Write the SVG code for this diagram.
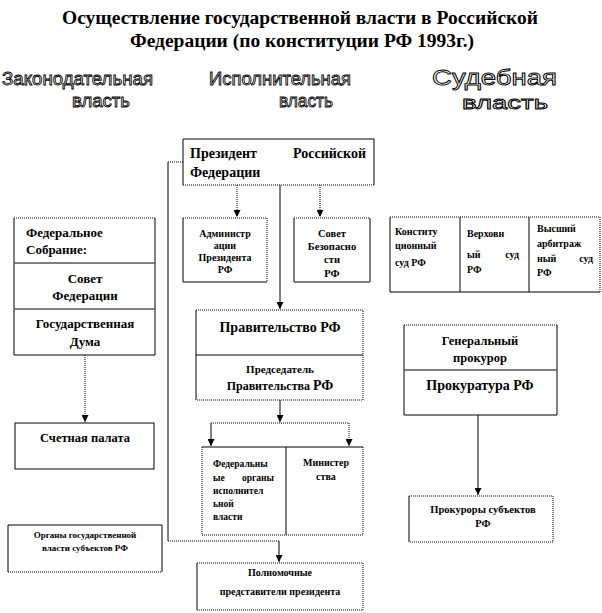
<svg xmlns="http://www.w3.org/2000/svg" width="602" height="613" viewBox="0 0 602 613">
<style>
.t{font-family:"Liberation Serif","Times New Roman",serif;font-weight:bold;fill:#000}
.h{font-family:"Liberation Sans",Arial,sans-serif;fill:#fff;stroke:#000;stroke-width:0.9}
.box{fill:#fff;stroke:none}
.s{fill:none;stroke:#000;stroke-width:1}
.d{fill:none;stroke:#000;stroke-width:1;stroke-dasharray:1 1}
.g{fill:none;stroke:#555;stroke-width:1.5}
.m{text-anchor:middle}
</style>
<defs>
<marker id="ar" markerWidth="8" markerHeight="7" refX="7" refY="3.5" orient="auto" markerUnits="userSpaceOnUse">
<path d="M0,0 L7,3.5 L0,7 Z" fill="#000"/>
</marker>
</defs>
<rect width="602" height="613" fill="#fff"/>
<g id="title">
<text class="t m" x="300" y="24" font-size="18" textLength="476" lengthAdjust="spacingAndGlyphs">Осуществление государственной власти в Российской</text>
<text class="t m" x="302" y="47" font-size="18" textLength="344" lengthAdjust="spacingAndGlyphs">Федерации (по конституции РФ 1993г.)</text>
</g>
<g id="headers">
<text class="h" x="2" y="85" font-size="19" textLength="151" lengthAdjust="spacingAndGlyphs">Законодательная</text>
<text class="h" x="72" y="107" font-size="19" textLength="58" lengthAdjust="spacingAndGlyphs">власть</text>
<text class="h" x="209" y="85" font-size="19" textLength="142" lengthAdjust="spacingAndGlyphs">Исполнительная</text>
<text class="h" x="279" y="107" font-size="19" textLength="54" lengthAdjust="spacingAndGlyphs">власть</text>
<text class="h" x="432" y="85" font-size="22" textLength="125" lengthAdjust="spacingAndGlyphs">Судебная</text>
<text class="h" x="462" y="109" font-size="19" textLength="86" lengthAdjust="spacingAndGlyphs">власть</text>
</g>
<g id="connectors">
<path class="d" d="M237,185 V217" marker-end="url(#ar)"/>
<path class="d" d="M320,185 V217" marker-end="url(#ar)"/>
<path class="s" d="M280,185 V309" marker-end="url(#ar)"/>
<path class="d" d="M183,162 H168"/>
<path class="s" d="M168,162 V541"/>
<path class="d" d="M168,541 H279"/>
<path class="s" d="M279,541 V562" marker-end="url(#ar)"/>
<path class="s" d="M280,400 V422" marker-end="url(#ar)"/>
<path class="d" d="M211,423 H349"/>
<path class="s" d="M211,423 V446" marker-end="url(#ar)"/>
<path class="d" d="M349,423 V446" marker-end="url(#ar)"/>
<path class="d" d="M85,355 V422" marker-end="url(#ar)"/>
<path class="s" d="M478,415 V495" marker-end="url(#ar)"/>
</g>
<g id="president">
<rect class="box" x="183" y="139" width="191" height="46"/>
<path class="s" d="M183,185 V139 H374 V185"/>
<path class="d" d="M183,185 H374"/>
<text class="t" x="190" y="158" font-size="14">Президент</text>
<text class="t" x="366" y="158" font-size="14" text-anchor="end">Российской</text>
<text class="t" x="190" y="177" font-size="14">Федерации</text>
</g>
<g id="admin">
<rect class="box" x="183" y="218" width="84" height="64"/>
<path class="s" d="M183,218 V282 H267"/>
<path class="d" d="M183,218 H267 V282"/>
<text class="t m" x="225" y="237" font-size="10">Администр</text>
<text class="t m" x="225" y="249" font-size="10">ации</text>
<text class="t m" x="225" y="261" font-size="10">Президента</text>
<text class="t m" x="225" y="273" font-size="10">РФ</text>
</g>
<g id="security">
<rect class="box" x="294" y="218" width="76" height="64"/>
<path class="s" d="M294,218 V282 H370 V218"/>
<path class="d" d="M294,218 H370"/>
<text class="t m" x="332" y="237" font-size="10.5">Совет</text>
<text class="t m" x="332" y="250" font-size="10.5">Безопасно</text>
<text class="t m" x="332" y="263" font-size="10.5">сти</text>
<text class="t m" x="332" y="277" font-size="10.5">РФ</text>
</g>
<g id="assembly">
<rect class="box" x="14" y="218" width="141" height="137"/>
<path class="s" d="M14,218 V355 H155 V218"/>
<path class="d" d="M14,218 H155"/>
<path class="g" d="M14,263 H155"/>
<path class="g" d="M14,309 H155"/>
<text class="t" x="26" y="237" font-size="13">Федеральное</text>
<text class="t" x="26" y="254" font-size="13">Собрание:</text>
<text class="t m" x="85" y="283" font-size="13">Совет</text>
<text class="t m" x="85" y="300" font-size="13">Федерации</text>
<text class="t m" x="85" y="328" font-size="13">Государственная</text>
<text class="t m" x="85" y="346" font-size="13">Дума</text>
</g>
<g id="courts">
<rect class="box" x="390" y="217" width="210" height="75"/>
<path class="s" d="M390,217 V292 H600"/>
<path class="d" d="M390,217 H600 V292"/>
<path class="s" d="M460,217 V292 M529,217 V292"/>
<text class="t" x="395" y="235" font-size="10">Конститу</text>
<text class="t" x="395" y="249" font-size="10">ционный</text>
<text class="t" x="395" y="266" font-size="10">суд РФ</text>
<text class="t" x="467" y="237" font-size="10">Верховн</text>
<text class="t" x="467" y="258" font-size="10">ый</text>
<text class="t" x="519" y="258" font-size="10" text-anchor="end">суд</text>
<text class="t" x="467" y="273" font-size="10">РФ</text>
<text class="t" x="537" y="232" font-size="10">Высший</text>
<text class="t" x="537" y="247" font-size="10">арбитраж</text>
<text class="t" x="537" y="262" font-size="10">ный</text>
<text class="t" x="593" y="262" font-size="10" text-anchor="end">суд</text>
<text class="t" x="537" y="276" font-size="10">РФ</text>
</g>
<g id="government">
<rect class="box" x="196" y="310" width="167" height="90"/>
<path class="s" d="M196,310 V400"/>
<path class="d" d="M196,310 H363 V400 H196"/>
<path class="s" d="M196,355 H363"/>
<text class="t m" x="280" y="332" font-size="14">Правительство РФ</text>
<text class="t m" x="280" y="373" font-size="11">Председатель</text>
<text class="t m" x="280" y="390" font-size="12">Правительства  <tspan font-size="14">РФ</tspan></text>
</g>
<g id="organs">
<rect class="box" x="202" y="447" width="161" height="88"/>
<path class="s" d="M202,447 H363"/>
<path class="d" d="M202,447 V535 H363 V447"/>
<path class="s" d="M286,447 V535"/>
<text class="t" x="213" y="467" font-size="9.5">Федеральны</text>
<text class="t" x="213" y="481" font-size="9.5">ые</text>
<text class="t" x="274" y="481" font-size="9.5" text-anchor="end">органы</text>
<text class="t" x="213" y="494" font-size="9.5">исполнител</text>
<text class="t" x="213" y="507" font-size="9.5">ьной</text>
<text class="t" x="213" y="520" font-size="9.5">власти</text>
<text class="t m" x="326" y="466" font-size="10">Министер</text>
<text class="t m" x="326" y="480" font-size="10">ства</text>
</g>
<g id="prosecutor">
<rect class="box" x="404" y="325" width="153" height="90"/>
<path class="s" d="M404,325 V415 H557 V325"/>
<path class="d" d="M404,325 H557"/>
<path class="g" d="M404,370 H557"/>
<text class="t m" x="480" y="345" font-size="12.5">Генеральный</text>
<text class="t m" x="480" y="362" font-size="12.5">прокурор</text>
<text class="t m" x="480" y="390" font-size="14">Прокуратура  РФ</text>
</g>
<g id="regional-prosecutors">
<rect class="box" x="409" y="496" width="144" height="46"/>
<path class="s" d="M409,496 V542"/>
<path class="d" d="M409,496 H553 V542 H409"/>
<text class="t m" x="483" y="513" font-size="10.5">Прокуроры субъектов</text>
<text class="t m" x="483" y="527" font-size="10.5">РФ</text>
</g>
<g id="accounts-chamber">
<rect class="box s" x="15" y="423" width="139" height="46"/>
<text class="t m" x="85" y="442" font-size="12.5">Счетная палата</text>
</g>
<g id="regional-bodies">
<rect class="box" x="8" y="525" width="154" height="47"/>
<path class="s" d="M8,572 V525 H162 V572"/>
<path class="d" d="M8,572 H162"/>
<text class="t m" x="85" y="538" font-size="9">Органы государственной</text>
<text class="t m" x="85" y="551" font-size="9">власти  субъектов РФ</text>
</g>
<g id="envoys">
<rect class="box" x="197" y="563" width="166" height="47"/>
<path class="s" d="M197,563 V610"/>
<path class="d" d="M197,563 H363 V610 H197"/>
<text class="t m" x="280" y="576" font-size="10">Полномочные</text>
<text class="t m" x="280" y="595" font-size="10">представители  президента</text>
</g>
</svg>
